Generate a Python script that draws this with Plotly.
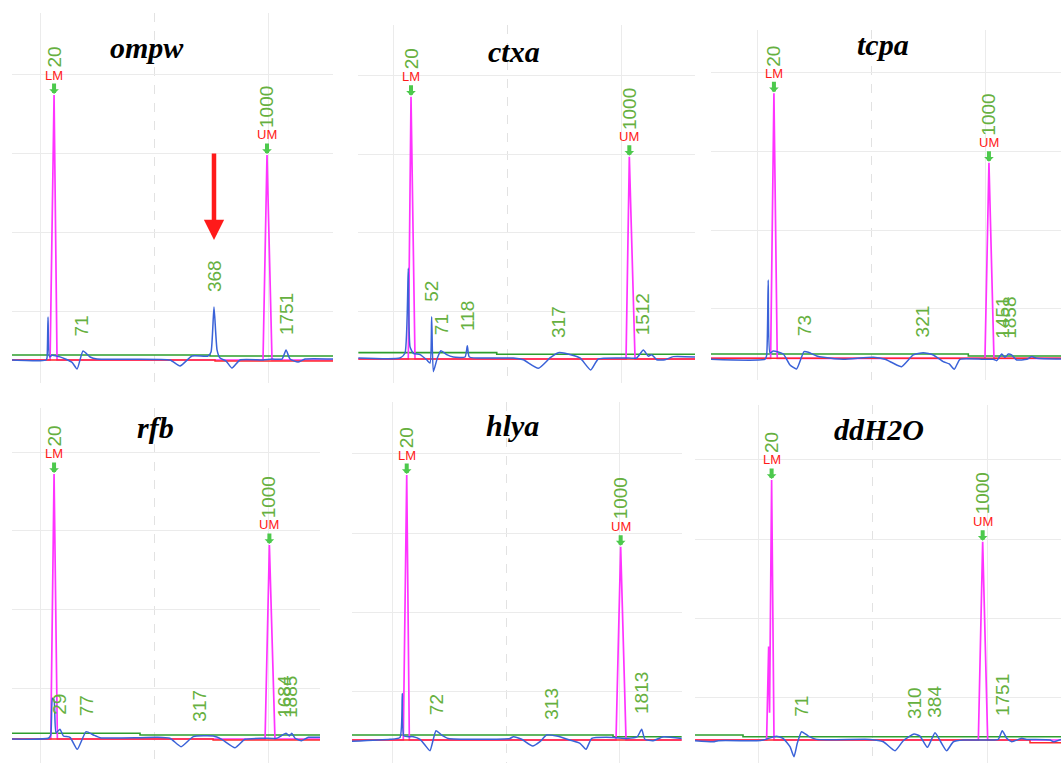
import plotly.graph_objects as go

W, H = 1061, 763

# ---------------- data (time in s, fluorescence units) ----------------
# ompw
ompw_t = [37.54, 40.00, 40.53, 40.61, 40.70, 40.83, 41.05, 41.75, 42.28, 42.81, 43.25, 43.77, 44.39, 45.00,
          51.40, 52.28, 53.33, 54.74, 55.00, 55.26, 55.53, 55.79, 56.32, 56.84, 57.54, 59.56, 60.35, 61.23,
          61.58, 61.93, 62.63, 63.25, 65.70]
ompw_fu = [3.80, 3.70, 3.80, 4.05, 9.24, 4.20, 4.40, 4.20, 3.90, 3.50, 2.66, 4.94, 4.18, 3.92,
           3.80, 3.04, 4.30, 4.30, 4.80, 10.50, 5.06, 4.05, 3.67, 2.78, 3.80, 3.80, 3.92, 3.92,
           5.06, 3.92, 3.54, 3.92, 3.92]
ompw_lad_t = [37.54, 40.88, 41.23, 41.49, 59.56, 59.91, 60.35, 65.70]
ompw_lad_fu = [3.80, 3.80, 37.34, 3.80, 3.80, 29.75, 3.80, 3.80]
ompw_green_t = [37.54, 54.91, 65.70]
ompw_green_fu = [4.43, 4.30, 4.30]
ompw_red_t = [37.54, 55.35, 65.70]
ompw_red_fu = [3.80, 3.67, 3.67]
ompw_lbl_t = [43.68, 55.26, 61.58]
ompw_lbl_fu = [4.94, 10.50, 5.06]
ompw_lbl_txt = ["71", "368", "1751"]

# ctxa
ctxa_t = [36.96, 40.61, 41.05, 41.34, 41.49, 41.78, 42.37, 42.95, 43.25, 43.39, 43.54, 43.89, 44.21, 44.71,
          45.29, 46.32, 46.52, 46.70, 49.10, 50.55, 51.43, 52.75, 53.77, 54.50, 55.09, 56.40, 57.34, 58.01,
          60.35, 61.38, 61.96, 62.40, 62.69, 63.13, 63.86, 64.59, 66.49]
ctxa_fu = [4.18, 4.18, 4.77, 15.53, 5.61, 4.77, 4.60, 3.95, 3.54, 9.40, 2.44, 4.18, 5.10, 4.60,
           4.30, 4.30, 5.73, 4.30, 4.18, 4.18, 3.95, 2.87, 4.18, 4.85, 4.77, 4.18, 2.66, 4.05,
           4.18, 4.18, 5.19, 4.40, 4.60, 3.95, 3.95, 4.35, 4.30]
ctxa_lad_t = [36.96, 41.34, 41.58, 41.93, 60.44, 60.73, 61.23, 66.49]
ctxa_lad_fu = [4.05, 4.05, 37.25, 4.05, 4.05, 29.66, 4.05, 4.05]
ctxa_green_t = [36.96, 49.10, 66.49]
ctxa_green_fu = [4.85, 4.65, 4.65]
ctxa_red_t = [36.96, 66.49]
ctxa_red_fu = [4.05, 4.05]
ctxa_lbl_t = [43.39, 44.21, 46.52, 54.50, 61.96]
ctxa_lbl_fu = [9.40, 5.10, 5.73, 4.85, 5.19]
ctxa_lbl_txt = ["52", "71", "118", "317", "1512"]

# tcpa
tcpa_t = [35.88, 40.61, 40.76, 40.90, 41.05, 41.34, 42.22, 42.81, 43.39, 44.04, 44.42, 45.15, 45.73, 47.48,
          50.11, 51.14, 51.87, 52.60, 53.62, 54.50, 55.38, 56.25, 56.78, 57.22, 57.72, 59.76, 60.64, 60.94,
          61.38, 61.67, 61.96, 62.25, 62.69, 63.57, 64.01, 64.45, 66.58]
tcpa_fu = [3.63, 3.63, 4.13, 13.67, 4.43, 4.68, 4.30, 2.91, 2.41, 4.60, 4.52, 4.05, 3.88, 3.63,
           3.88, 3.63, 3.13, 2.70, 4.18, 4.47, 4.18, 3.34, 3.04, 2.37, 3.63, 3.63, 3.63, 3.46,
           4.30, 3.88, 4.30, 4.18, 3.55, 3.63, 3.97, 3.76, 3.67]
tcpa_lad_t = [35.88, 41.11, 41.40, 41.69, 59.91, 60.26, 60.70, 66.58]
tcpa_lad_fu = [3.76, 3.76, 37.30, 3.76, 3.76, 28.52, 3.76, 3.76]
tcpa_green_t = [35.88, 58.45, 66.58]
tcpa_green_fu = [4.30, 4.05, 4.05]
tcpa_red_t = [35.88, 66.58]
tcpa_red_fu = [3.76, 3.76]
tcpa_lbl_t = [44.04, 54.45, 61.38, 62.00]
tcpa_lbl_fu = [4.60, 4.47, 4.30, 4.30]
tcpa_lbl_txt = ["73", "321", "1451", "1858"]

# rfb
rfb_t = [37.51, 40.73, 40.94, 41.08, 41.23, 41.40, 41.75, 42.05, 42.63, 43.27, 44.04, 44.68, 45.26, 48.77,
         50.23, 51.40, 52.37, 53.45, 55.20, 55.94, 57.11, 57.98, 59.59, 60.76, 61.58, 61.87, 62.08, 62.37,
         62.95, 63.54, 64.56]
rfb_fu = [3.67, 3.76, 4.18, 8.82, 8.60, 4.47, 4.90, 4.05, 3.88, 2.36, 4.60, 4.18, 3.84, 3.84,
          3.88, 3.76, 2.70, 3.97, 4.05, 3.63, 2.57, 3.63, 3.76, 3.76, 4.39, 4.05, 4.39, 3.76,
          3.46, 3.88, 3.88]
rfb_lad_t = [37.51, 40.94, 41.23, 41.52, 59.74, 60.12, 60.61, 64.56]
rfb_lad_fu = [3.67, 3.67, 37.22, 3.67, 3.67, 28.23, 3.67, 3.67]
rfb_green_t = [37.51, 48.77, 64.56]
rfb_green_fu = [4.39, 4.18, 4.18]
rfb_red_t = [37.51, 55.18, 64.56]
rfb_red_fu = [3.67, 3.54, 3.54]
rfb_lbl_t = [41.75, 44.04, 53.97, 61.49, 61.99]
rfb_lbl_fu = [4.90, 4.60, 4.00, 4.39, 4.39]
rfb_lbl_txt = ["29", "77", "317", "1684", "1885"]

# hlya
hlya_t = [36.46, 39.82, 40.70, 40.90, 41.05, 41.87, 42.46, 42.89, 43.33, 43.86, 44.36, 44.94, 50.35, 50.64,
          51.38, 52.34, 52.98, 53.57, 54.45, 55.61, 56.49, 57.02, 57.52, 59.41, 60.59, 61.52, 61.90, 62.19,
          62.92, 63.80, 65.41]
hlya_fu = [3.63, 3.89, 4.13, 9.70, 4.30, 4.22, 3.89, 3.17, 2.45, 4.98, 4.43, 4.00, 4.00, 4.22,
           3.89, 3.04, 3.59, 4.43, 4.30, 3.80, 3.38, 2.62, 4.00, 4.13, 4.00, 4.22, 5.15, 3.89,
           3.72, 4.22, 4.00]
hlya_lad_t = [36.46, 40.99, 41.29, 41.52, 59.65, 60.06, 60.53, 65.41]
hlya_lad_fu = [3.80, 3.80, 37.34, 3.80, 3.80, 28.27, 3.80, 3.80]
hlya_green_t = [36.46, 59.39, 65.41]
hlya_green_fu = [4.43, 4.22, 4.22]
hlya_red_t = [36.46, 65.41]
hlya_red_fu = [3.80, 3.80]
hlya_lbl_t = [43.86, 53.92, 61.90]
hlya_lbl_fu = [4.98, 4.43, 5.15]
hlya_lbl_txt = ["72", "313", "1813"]

# ddH2O
ddh2o_t = [34.39, 35.99, 36.43, 39.80, 40.38, 41.52, 42.11, 42.72, 43.07, 43.36, 43.74, 44.33, 45.06, 49.74,
           50.91, 51.93, 52.66, 53.60, 54.12, 54.77, 55.44, 55.94, 56.46, 57.05, 57.92, 59.24, 60.26, 60.99,
           61.34, 61.73, 62.17, 63.04, 63.48, 65.53, 65.82, 66.49]
ddh2o_fu = [4.47, 4.34, 4.47, 4.47, 4.56, 5.05, 4.77, 3.71, 2.44, 4.14, 5.61, 5.06, 4.64, 4.64,
            4.34, 3.20, 4.47, 5.32, 5.06, 3.63, 5.48, 4.34, 3.20, 4.34, 4.56, 4.56, 4.56, 4.64,
            5.73, 4.77, 4.34, 4.77, 4.64, 4.56, 4.34, 4.64]
ddh2o_lad_t = [34.39, 40.67, 40.85, 40.93, 41.11, 41.32, 59.24, 59.62, 60.06, 66.49]
ddh2o_lad_fu = [4.56, 4.56, 16.40, 8.00, 37.47, 4.56, 4.56, 29.66, 4.56, 4.56]
ddh2o_green_t = [34.39, 38.60, 66.49]
ddh2o_green_fu = [5.19, 4.98, 4.98]
ddh2o_red_t = [34.39, 63.77, 66.49]
ddh2o_red_fu = [4.56, 4.22, 4.22]
ddh2o_lbl_t = [43.74, 53.60, 55.44, 61.34]
ddh2o_lbl_fu = [5.61, 5.32, 5.48, 5.73]
ddh2o_lbl_txt = ["71", "310", "384", "1751"]

sample_names = ["ompw", "ctxa", "tcpa", "rfb", "hlya", "ddH2O"]
marker_sizes = ["20", "1000"]
marker_names = ["LM", "UM"]

PANEL_DATA = [
    (ompw_t, ompw_fu, ompw_lad_t, ompw_lad_fu, ompw_green_t, ompw_green_fu, ompw_red_t, ompw_red_fu,
     ompw_lbl_t, ompw_lbl_fu, ompw_lbl_txt),
    (ctxa_t, ctxa_fu, ctxa_lad_t, ctxa_lad_fu, ctxa_green_t, ctxa_green_fu, ctxa_red_t, ctxa_red_fu,
     ctxa_lbl_t, ctxa_lbl_fu, ctxa_lbl_txt),
    (tcpa_t, tcpa_fu, tcpa_lad_t, tcpa_lad_fu, tcpa_green_t, tcpa_green_fu, tcpa_red_t, tcpa_red_fu,
     tcpa_lbl_t, tcpa_lbl_fu, tcpa_lbl_txt),
    (rfb_t, rfb_fu, rfb_lad_t, rfb_lad_fu, rfb_green_t, rfb_green_fu, rfb_red_t, rfb_red_fu,
     rfb_lbl_t, rfb_lbl_fu, rfb_lbl_txt),
    (hlya_t, hlya_fu, hlya_lad_t, hlya_lad_fu, hlya_green_t, hlya_green_fu, hlya_red_t, hlya_red_fu,
     hlya_lbl_t, hlya_lbl_fu, hlya_lbl_txt),
    (ddh2o_t, ddh2o_fu, ddh2o_lad_t, ddh2o_lad_fu, ddh2o_green_t, ddh2o_green_fu, ddh2o_red_t, ddh2o_red_fu,
     ddh2o_lbl_t, ddh2o_lbl_fu, ddh2o_lbl_txt),
]

# ---------------- layout geometry (pixels of the 1061x763 page) ----------------
PANEL_LAYOUT = [
    dict(xr=[37.54, 65.70], yr=[0.89, 47.72], px=(12, 333), py=(13, 383), title=(147, 47)),
    dict(xr=[36.93, 66.49], yr=[1.01, 46.33], px=(358, 695), py=(25, 383), title=(514, 51)),
    dict(xr=[35.88, 66.58], yr=[1.01, 45.32], px=(711, 1061), py=(30, 380), title=(883, 45)),
    dict(xr=[37.54, 64.56], yr=[0.63, 45.57], px=(12, 320), py=(408, 763), title=(155, 427)),
    dict(xr=[36.49, 65.44], yr=[0.89, 46.58], px=(352, 682), py=(402, 763), title=(512, 425)),
    dict(xr=[34.39, 66.49], yr=[1.65, 46.96], px=(695, 1061), py=(405, 763), title=(879, 429)),
]

BLUE = "#3a62d8"
MAGENTA = "#ff33ff"
GREEN_LINE = "#2e9e2e"
RED_LINE = "#ff2a2a"
GREEN_TXT = "#66b040"
GREEN_ARROW = "#4cc94c"
RED_TXT = "#ff1a1a"
GRID = "#ebebeb"

fig = go.Figure()
annotations = []
layout_axes = {}

for i, (data, lay) in enumerate(zip(PANEL_DATA, PANEL_LAYOUT), start=1):
    (t, fu, lad_t, lad_fu, g_t, g_fu, r_t, r_fu, l_t, l_fu, l_txt) = data
    xa = "x" if i == 1 else f"x{i}"
    ya = "y" if i == 1 else f"y{i}"
    common = dict(xaxis=xa, yaxis=ya, mode="lines", showlegend=False, hoverinfo="skip")
    fig.add_trace(go.Scatter(x=g_t, y=g_fu, line=dict(color=GREEN_LINE, width=1.6, shape="hv"), **common))
    fig.add_trace(go.Scatter(x=lad_t, y=lad_fu, line=dict(color=MAGENTA, width=1.7), **common))
    fig.add_trace(go.Scatter(x=r_t, y=r_fu, line=dict(color=RED_LINE, width=1.5, shape="hv"), **common))
    fig.add_trace(go.Scatter(x=t, y=fu, line=dict(color=BLUE, width=1.5, shape="spline", smoothing=0.5),
                             **common))

    # axes
    x0, x1 = lay["px"]
    y0, y1 = lay["py"]
    axn = "" if i == 1 else str(i)
    layout_axes[f"xaxis{axn}"] = dict(
        domain=[x0 / W, x1 / W], range=lay["xr"], anchor=ya, showticklabels=False, ticks="",
        showline=False, zeroline=False, showgrid=True, gridcolor=GRID, gridwidth=1,
        tickmode="array", tickvals=[20, 40, 60, 80], fixedrange=True,
        minor=dict(tickmode="array", tickvals=[30, 50, 70], showgrid=True, gridcolor="#e2e2e2",
                   griddash="dash", gridwidth=1, ticks=""),
    )
    layout_axes[f"yaxis{axn}"] = dict(
        domain=[1 - y1 / H, 1 - y0 / H], range=lay["yr"], anchor=xa, showticklabels=False, ticks="",
        showline=False, zeroline=False, showgrid=True, gridcolor=GRID, gridwidth=1,
        tickmode="array", tickvals=[10, 20, 30, 40], fixedrange=True,
    )

    # title
    tx, ty = lay["title"]
    annotations.append(dict(
        x=tx / W, y=1 - ty / H, xref="paper", yref="paper", text=f"<b><i>{sample_names[i-1]}</i></b>",
        showarrow=False, xanchor="center", yanchor="middle",
        font=dict(family="Liberation Serif", size=30, color="black")))

    # marker peaks LM (t<50) and UM (t>50)
    lower = max((v, tt) for tt, v in zip(lad_t, lad_fu) if tt < 50)
    upper = max((v, tt) for tt, v in zip(lad_t, lad_fu) if tt > 50)
    for (pv, pt), size_txt, mname in zip([lower, upper], marker_sizes, marker_names):
        annotations.append(dict(x=pt, y=pv, xref=xa, yref=ya, text=size_txt, textangle=-90,
                                showarrow=False, xanchor="center", yanchor="bottom", yshift=25,
                                font=dict(family="Liberation Sans", size=19, color=GREEN_TXT)))
        annotations.append(dict(x=pt, y=pv, xref=xa, yref=ya, text=mname, showarrow=False,
                                xanchor="center", yanchor="middle", yshift=20,
                                font=dict(family="Liberation Sans", size=13, color=RED_TXT)))
        annotations.append(dict(x=pt, y=pv, xref=xa, yref=ya, text="", showarrow=True, ax=0, ay=-12,
                                arrowhead=1, arrowsize=0.4, arrowwidth=4, arrowcolor=GREEN_ARROW,
                                standoff=0, yshift=1))

    # other peak labels
    for tt, v, txt in zip(l_t, l_fu, l_txt):
        annotations.append(dict(x=tt, y=v, xref=xa, yref=ya, text=txt, textangle=-90, showarrow=False,
                                xanchor="center", yanchor="bottom", yshift=13,
                                font=dict(family="Liberation Sans", size=19, color=GREEN_TXT)))

# big red arrow pointing at the 368 bp peak of ompw
pk = ompw_lbl_txt.index("368")
annotations.append(dict(x=ompw_lbl_t[pk], y=ompw_lbl_fu[pk], xref="x", yref="y", text="", showarrow=True,
                        ax=0, ay=-88, arrowhead=2, arrowsize=0.9, arrowwidth=4.5, arrowcolor="#ff1a1a",
                        standoff=0, yshift=67))

fig.update_layout(
    width=W, height=H, margin=dict(l=0, r=0, t=0, b=0),
    paper_bgcolor="white", plot_bgcolor="white",
    annotations=annotations, showlegend=False,
    **layout_axes,
)

fig.write_html("out.html", config={"displayModeBar": False},
               post_script="document.body.style.margin='0';")
